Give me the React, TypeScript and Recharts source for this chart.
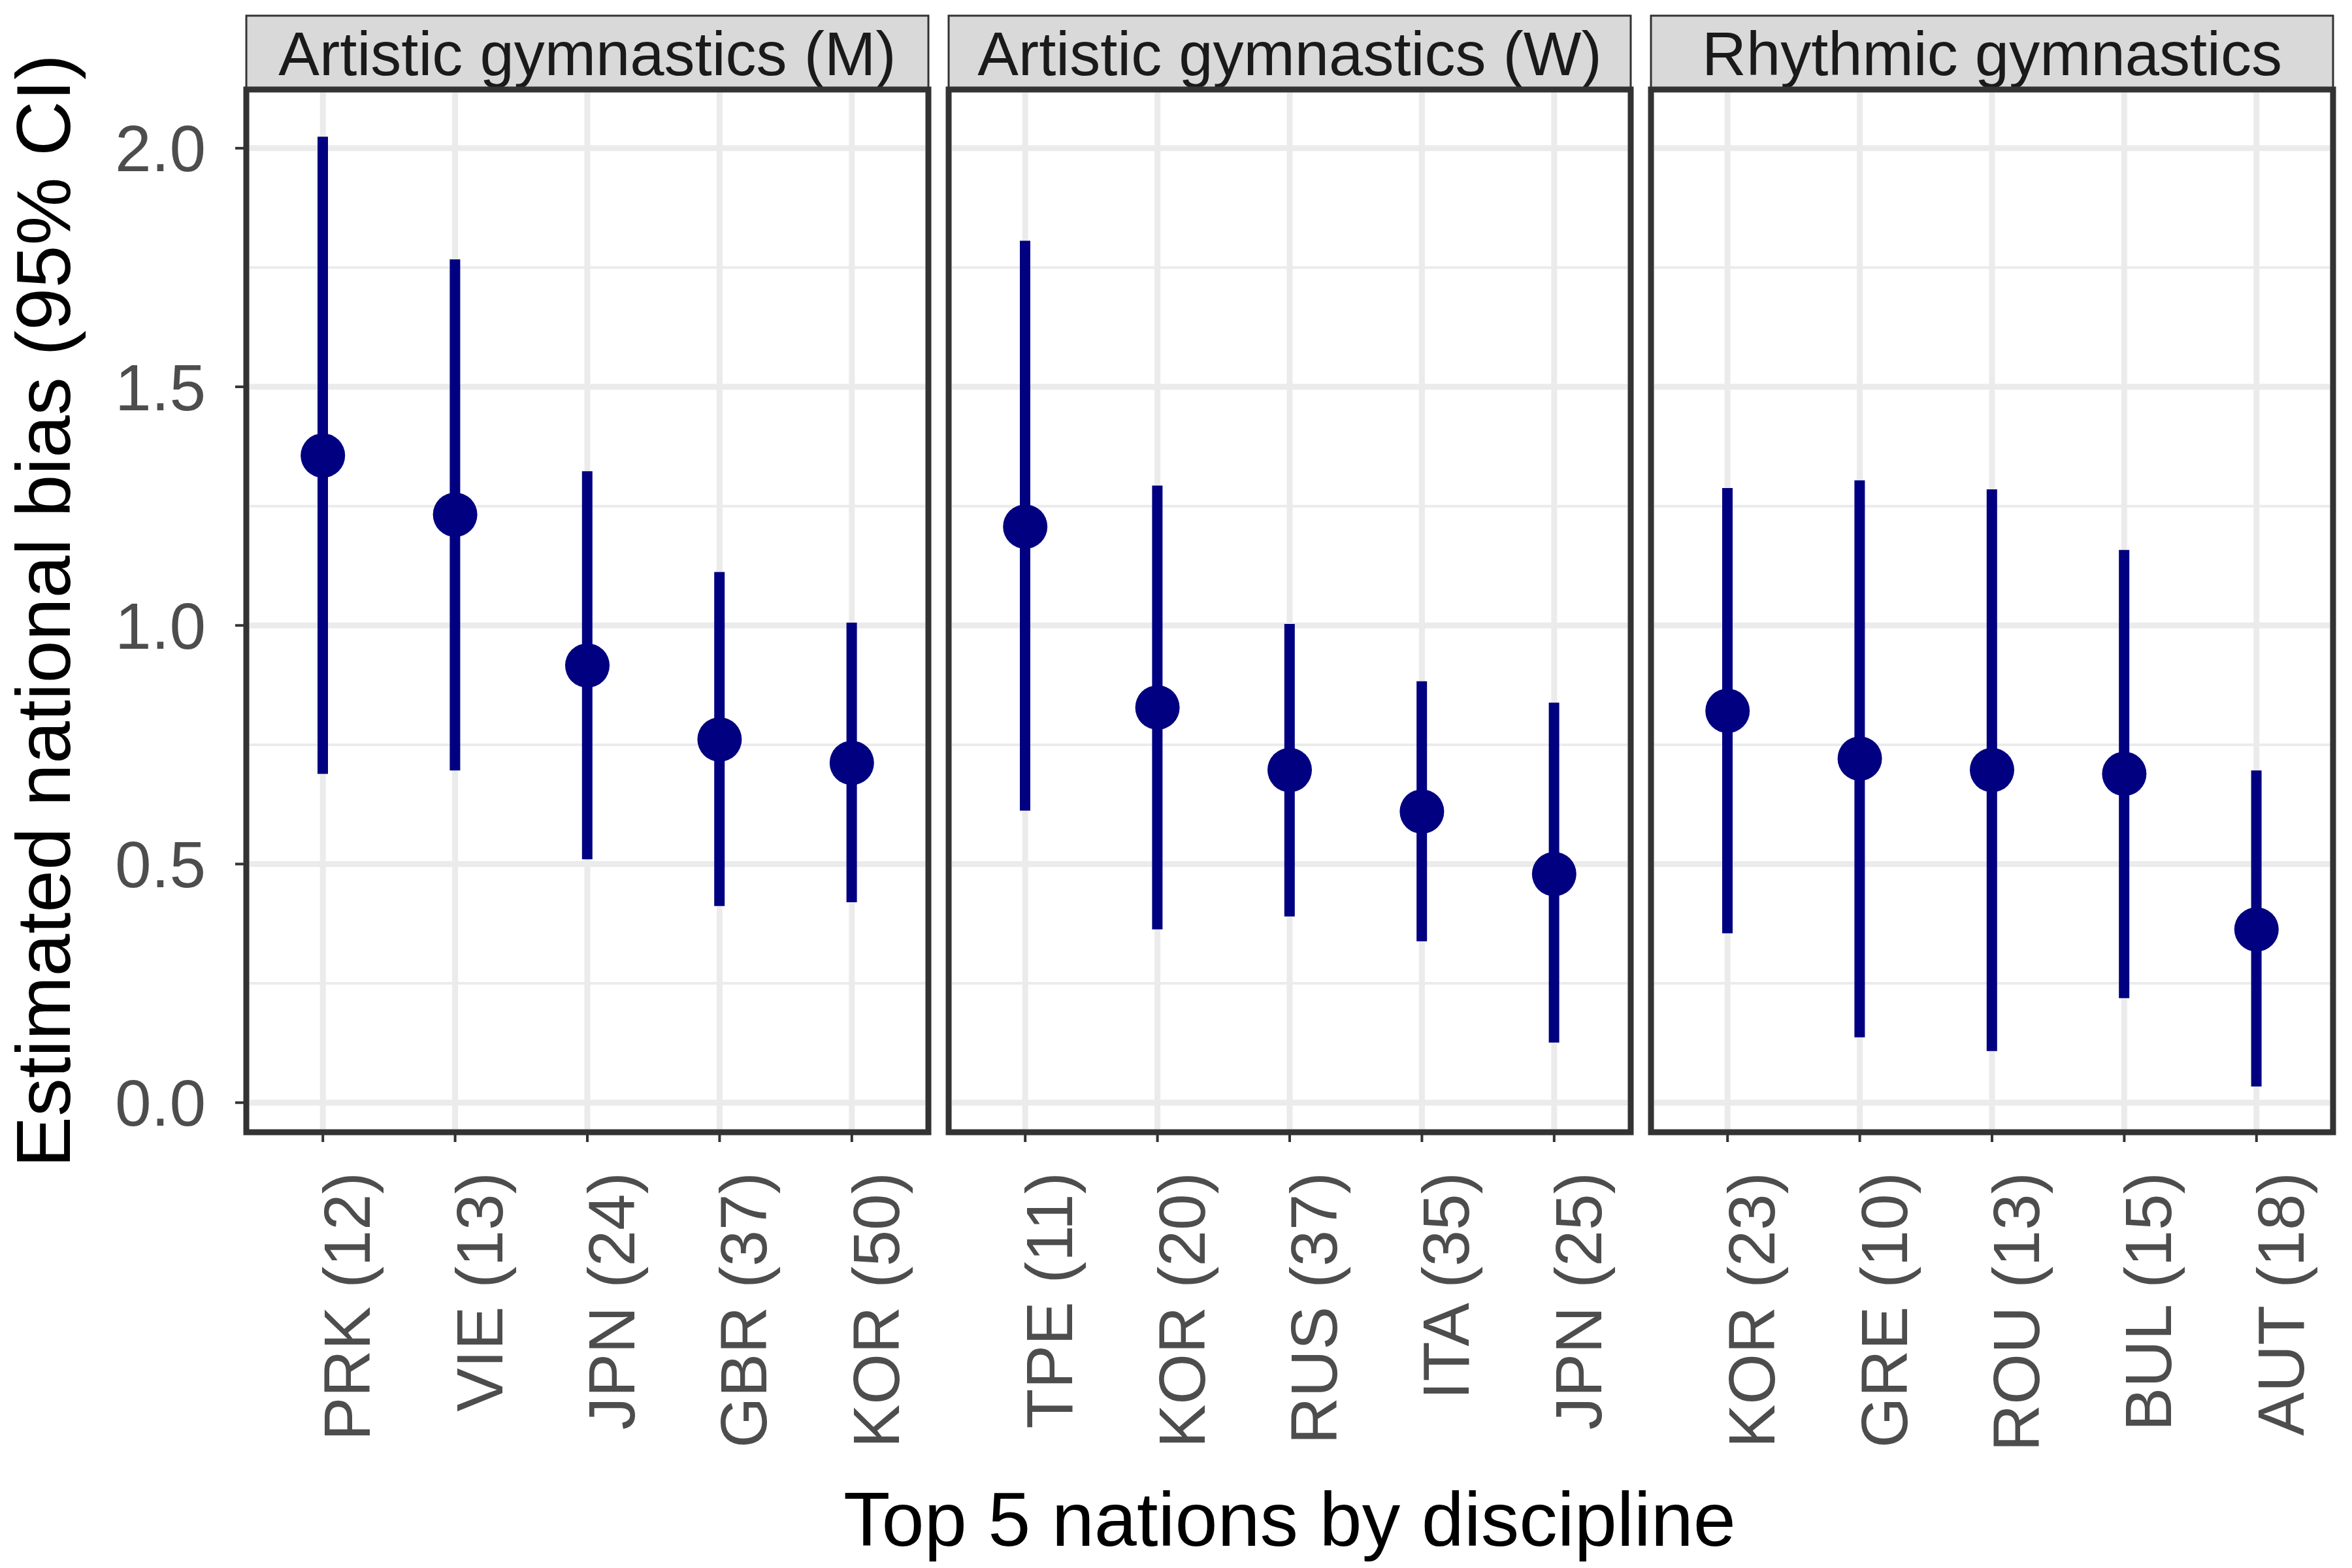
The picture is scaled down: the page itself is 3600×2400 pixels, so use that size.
import { ComposedChart, Bar, Scatter, XAxis, YAxis, CartesianGrid } from "recharts"

const FONT = "'Liberation Sans', Arial, Helvetica, sans-serif"
const NAVY = "#000080"

const disciplines = ["Artistic gymnastics (M)", "Artistic gymnastics (W)", "Rhythmic gymnastics"]

const nationsM = ["PRK (12)", "VIE (13)", "JPN (24)", "GBR (37)", "KOR (50)"]
const estimateM = [1.356, 1.232, 0.916, 0.761, 0.712]
const lowerM = [0.689, 0.696, 0.51, 0.412, 0.42]
const upperM = [2.024, 1.767, 1.323, 1.112, 1.006]

const nationsW = ["TPE (11)", "KOR (20)", "RUS (37)", "ITA (35)", "JPN (25)"]
const estimateW = [1.207, 0.828, 0.697, 0.61, 0.479]
const lowerW = [0.612, 0.363, 0.39, 0.338, 0.126]
const upperW = [1.806, 1.293, 1.003, 0.883, 0.838]

const nationsR = ["KOR (23)", "GRE (10)", "ROU (13)", "BUL (15)", "AUT (18)"]
const estimateR = [0.821, 0.721, 0.697, 0.689, 0.363]
const lowerR = [0.355, 0.137, 0.108, 0.219, 0.034]
const upperR = [1.288, 1.304, 1.285, 1.158, 0.696]

const yTicks = [0, 0.5, 1, 1.5, 2]
const yMinor = [0.25, 0.75, 1.25, 1.75]

// panel geometry
const PANEL_TOP = 137
const PANEL_H = 1596
const PANEL_W = 1044
const PANEL_LEFTS = [377, 1452, 2527]
const X_AXIS_H = 620

function rows(nations: string[], est: number[], lo: number[], hi: number[]) {
  return nations.map((nation, i) => ({ nation, est: est[i], range: [lo[i], hi[i]] }))
}

const panels = [
  rows(nationsM, estimateM, lowerM, upperM),
  rows(nationsW, estimateW, lowerW, upperW),
  rows(nationsR, estimateR, lowerR, upperR),
]

const NationTick = (props: any) => {
  const { x, y, payload } = props
  return (
    <text
      x={0}
      y={0}
      transform={`translate(${x + 72},${y}) rotate(-90)`}
      textAnchor="end"
      fontSize={100}
      fill="#4D4D4D"
      fontFamily={FONT}
    >
      {payload.value}
    </text>
  )
}

const Dot = (props: any) => <circle cx={props.cx} cy={props.cy} r={34} fill={NAVY} />

function Panel({ data, index }: { data: any[]; index: number }) {
  const first = index === 0
  const left = first ? 0 : PANEL_LEFTS[index]
  return (
    <div style={{ position: "absolute", left, top: PANEL_TOP }}>
      <ComposedChart
        width={first ? PANEL_LEFTS[0] + PANEL_W : PANEL_W}
        height={PANEL_H + X_AXIS_H}
        data={data}
        margin={{ top: 0, right: 0, bottom: 0, left: 0 }}
      >
        <CartesianGrid stroke="#EBEBEB" strokeWidth={4} vertical={false} horizontalValues={yMinor} />
        <CartesianGrid stroke="#EBEBEB" strokeWidth={9} />
        <XAxis
          dataKey="nation"
          type="category"
          height={X_AXIS_H}
          padding={{ left: 16, right: 16 }}
          axisLine={false}
          tickSize={15}
          tickMargin={46}
          tickLine={{ stroke: "#333333", strokeWidth: 4 }}
          tick={<NationTick />}
          interval={0}
        />
        <YAxis
          type="number"
          domain={[-0.062, 2.123]}
          ticks={yTicks}
          allowDataOverflow
          hide={!first}
          width={first ? PANEL_LEFTS[0] : 0}
          axisLine={false}
          tickSize={17}
          tickMargin={45}
          tickLine={{ stroke: "#333333", strokeWidth: 4 }}
          tick={{ fontSize: 100, fill: "#4D4D4D", fontFamily: FONT }}
          tickFormatter={(v: number) => v.toFixed(1)}
        />
        <Bar dataKey="range" barSize={16} fill={NAVY} isAnimationActive={false} />
        <Scatter dataKey="est" shape={<Dot />} isAnimationActive={false} />
      </ComposedChart>
    </div>
  )
}

export default function App() {
  const centerX = (PANEL_LEFTS[0] + PANEL_LEFTS[2] + PANEL_W) / 2
  return (
    <div style={{ position: "absolute", left: 0, top: 0, width: 3600, height: 2400, background: "#fff", fontFamily: FONT, overflow: "hidden" }}>
      {panels.map((d, i) => (
        <Panel key={i} data={d} index={i} />
      ))}
      <svg width={3600} height={2400} style={{ position: "absolute", left: 0, top: 0, pointerEvents: "none" }}>
        {PANEL_LEFTS.map((x, i) => (
          <g key={i}>
            <rect x={x} y={24} width={PANEL_W} height={PANEL_TOP - 24} fill="#D9D9D9" stroke="#333333" strokeWidth={3} />
            <text x={x + PANEL_W / 2} y={115} textAnchor="middle" fontSize={94} fill="#1A1A1A" fontFamily={FONT}>
              {disciplines[i]}
            </text>
            <rect x={x} y={PANEL_TOP} width={PANEL_W} height={PANEL_H} fill="none" stroke="#333333" strokeWidth={9} />
          </g>
        ))}
        <text x={centerX} y={2366} textAnchor="middle" fontSize={117} fill="#000" fontFamily={FONT}>
          Top 5 nations by discipline
        </text>
        <text
          x={0}
          y={0}
          transform={`translate(107,${PANEL_TOP + PANEL_H / 2}) rotate(-90)`}
          textAnchor="middle"
          fontSize={117}
          fill="#000"
          fontFamily={FONT}
        >
          Estimated national bias (95% CI)
        </text>
      </svg>
    </div>
  )
}
